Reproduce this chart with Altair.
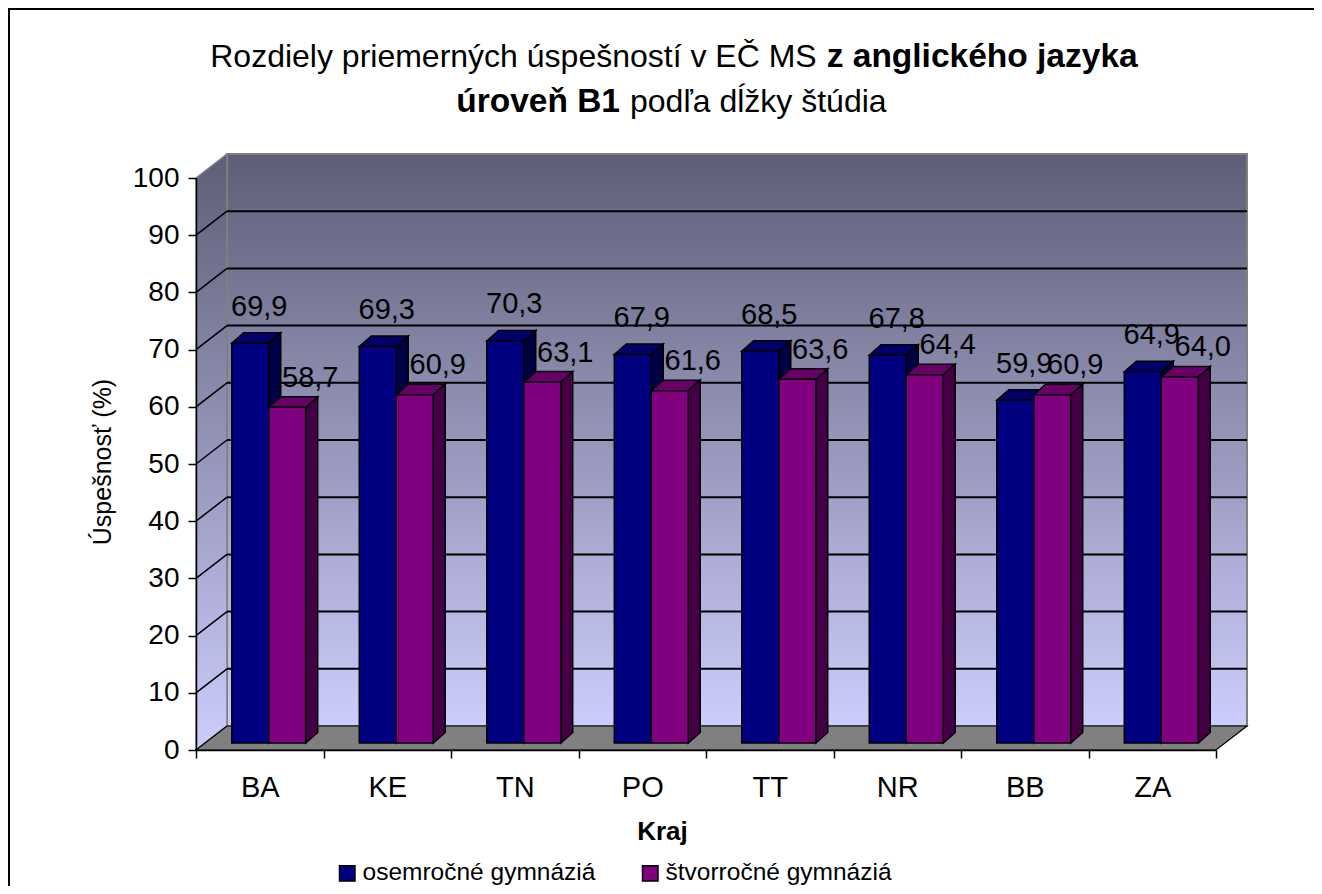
import json
import altair as alt
import pandas as pd

# ---------------- data ----------------
regions = ["BA", "KE", "TN", "PO", "TT", "NR", "BB", "ZA"]
series_names = ["osemročné gymnáziá", "štvorročné gymnáziá"]
osemrocne = [69.9, 69.3, 70.3, 67.9, 68.5, 67.8, 59.9, 64.9]
stvorrocne = [58.7, 60.9, 63.1, 61.6, 63.6, 64.4, 60.9, 64.0]
y_ticks = [0, 10, 20, 30, 40, 50, 60, 70, 80, 90, 100]
grid_values = [10, 20, 30, 40, 50, 60, 70, 80, 90]
title_line1 = ["Rozdiely priemerných úspešností v EČ MS", "z anglického jazyka"]
title_line2 = ["úroveň B1", "podľa dĺžky štúdia"]
x_title = "Kraj"
y_title = "Úspešnosť (%)"

# ---------------- style ----------------
FONT = "Liberation Sans"
front_colors = ["#000080", "#800080"]
top_colors = ["#000068", "#680068"]
side_colors = ["#000045", "#450045"]
W, H = 1020, 572
N = len(regions)
YMAX = 100
px_x = W / N
px_y = H / YMAX
WALL_DX, WALL_DY = 31 / px_x, 24 / px_y
LIFT_DX, LIFT_DY = 9 / px_x, 7 / px_y
BAR_DX, BAR_DY = 12 / px_x, 10.5 / px_y
BAR_START, BAR_W = 0.21, 0.29
label_dx_px = [-3, 11]
label_up_px = [17, 10]

wall_grad = {
    "gradient": "linear", "x1": 0, "y1": 0, "x2": 0, "y2": 1,
    "stops": [{"offset": 0, "color": "#5e5e77"}, {"offset": 1, "color": "#cdcdfd"}],
}

xs = alt.Scale(domain=[0, N], nice=False, zero=False)
ys = alt.Scale(domain=[0, YMAX], nice=False)

label_expr = f"datum.value < {N} ? {json.dumps(regions)}[datum.value] : ''"
XAXIS = alt.Axis(
    values=list(range(N + 1)), labelExpr=label_expr, labelOffset=px_x / 2,
    labelFlush=False, labelOverlap=False, labelFont=FONT, labelFontSize=29,
    labelColor="black", labelPadding=15, tickSize=8, tickColor="black", tickWidth=1.5,
    domainColor="black", domainWidth=1.5, grid=False, zindex=1,
    title=x_title, titleFont=FONT, titleFontSize=26, titleFontWeight="bold",
    titleColor="black", titleX=466, titleY=89, titleAlign="center",
    titleBaseline="alphabetic",
)
YAXIS = alt.Axis(
    values=y_ticks, labelFont=FONT, labelFontSize=28, labelColor="black",
    labelPadding=9, tickSize=8, tickColor="black", tickWidth=1.5,
    domainColor="black", domainWidth=1.5, grid=False, zindex=1,
    title=y_title, titleFont=FONT, titleFontSize=25, titleFontWeight="normal",
    titleColor="black", titleAngle=270, titleX=-94, titleY=283.5,
    titleAlign="center", titleBaseline="middle",
)


def X(field):
    return alt.X(field, scale=xs, axis=XAXIS)


def Y(field):
    return alt.Y(field, scale=ys, axis=YAXIS)


values = [osemrocne, stvorrocne]
front_rows, top_rows, side_rows, label_rows = [], [], [], []
for s, name in enumerate(series_names):
    for i, reg in enumerate(regions):
        v = values[s][i]
        x0 = i + BAR_START + s * BAR_W + LIFT_DX
        x1 = x0 + BAR_W
        yb = LIFT_DY
        yt = v + LIFT_DY
        bid = f"{reg}-{s}"
        front_rows.append(dict(region=reg, series=name, value=v, x0=x0, x1=x1, yb=yb, yt=yt))
        top_rows += [
            dict(bar=bid, fc=top_colors[s], y=yt, xa=x0, xb=x1),
            dict(bar=bid, fc=top_colors[s], y=yt + BAR_DY, xa=x0 + BAR_DX, xb=x1 + BAR_DX),
        ]
        side_rows += [
            dict(bar=bid, fc=side_colors[s], x=x1, ya=yt, yb=yb),
            dict(bar=bid, fc=side_colors[s], x=x1 + BAR_DX, ya=yt + BAR_DY, yb=yb + BAR_DY),
        ]
        label_rows.append(dict(
            series=name,
            label=f"{v:.1f}".replace(".", ","),
            x=(x0 + x1) / 2 + BAR_DX + label_dx_px[s] / px_x,
            y=yt + BAR_DY + label_up_px[s] / px_y,
        ))

front_df = pd.DataFrame(front_rows)
top_df = pd.DataFrame(top_rows)
side_df = pd.DataFrame(side_rows)
label_df = pd.DataFrame(label_rows)

# ---------------- walls ----------------
side_wall_df = pd.DataFrame([
    dict(x=0, ya=YMAX, yb=0),
    dict(x=WALL_DX, ya=YMAX + WALL_DY, yb=WALL_DY),
])
side_wall = alt.Chart(side_wall_df).mark_area(
    orient="vertical", fill=wall_grad, stroke="#808080", strokeWidth=1.5
).encode(x=X("x:Q"), y=Y("ya:Q"), y2="yb:Q")

floor_df = pd.DataFrame([
    dict(y=0, xa=0, xb=N),
    dict(y=WALL_DY, xa=WALL_DX, xb=N + WALL_DX),
])
floor = alt.Chart(floor_df).mark_area(
    orient="horizontal", fill="#808080", stroke="black", strokeWidth=1.2
).encode(y=Y("y:Q"), x=X("xa:Q"), x2="xb:Q")

back_df = pd.DataFrame([dict(x=WALL_DX, x2=N + WALL_DX, y=WALL_DY, y2=YMAX + WALL_DY)])
back_wall = alt.Chart(back_df).mark_rect(
    fill=wall_grad, stroke="#808080", strokeWidth=2
).encode(x=X("x:Q"), x2="x2:Q", y=Y("y:Q"), y2="y2:Q")

grid_df = pd.DataFrame({"g": grid_values})
back_grid = alt.Chart(grid_df).transform_calculate(
    yy=f"datum.g + {WALL_DY}", xa=f"{WALL_DX}", xb=f"{N + WALL_DX}"
).mark_rule(color="black", strokeWidth=2).encode(
    x=X("xa:Q"), x2="xb:Q", y=Y("yy:Q"),
)
side_grid = alt.Chart(grid_df).transform_calculate(
    y2v=f"datum.g + {WALL_DY}", xa="0", xb=f"{WALL_DX}"
).mark_rule(color="black", strokeWidth=1.5).encode(
    x=X("xa:Q"), x2="xb:Q", y=Y("g:Q"), y2="y2v:Q",
)

# ---------------- bars ----------------
sides = alt.Chart(side_df).mark_area(orient="vertical", stroke="black", strokeWidth=1.5).encode(
    x=X("x:Q"), y=Y("ya:Q"), y2="yb:Q",
    fill=alt.Fill("fc:N", scale=None),
    detail="bar:N",
)
tops = alt.Chart(top_df).mark_area(orient="horizontal", stroke="black", strokeWidth=1.5).encode(
    y=Y("y:Q"), x=X("xa:Q"), x2="xb:Q",
    fill=alt.Fill("fc:N", scale=None),
    detail="bar:N",
)
fronts = alt.Chart(front_df).mark_rect(stroke="black", strokeWidth=1.5).encode(
    x=X("x0:Q"), x2="x1:Q", y=Y("yb:Q"), y2="yt:Q",
    color=alt.Color("series:N", scale=alt.Scale(domain=series_names, range=front_colors),
                    legend=alt.Legend(
                        title=None, orient="none", legendX=139, legendY=683,
                        direction="horizontal", symbolType="square", symbolSize=240,
                        symbolStrokeColor="black", symbolStrokeWidth=1.5,
                        labelFont=FONT, labelFontSize=24.5, labelColor="black",
                        labelOffset=3, columnPadding=42, padding=0, labelLimit=500,
                    )),
    tooltip=["region:N", "series:N", "value:Q"],
)
labels = alt.Chart(label_df).mark_text(
    font=FONT, fontSize=29, color="black", baseline="alphabetic", align="center"
).encode(x=X("x:Q"), y=Y("y:Q"), text="label:N")

# ---------------- title & frame ----------------
one = pd.DataFrame({"k": [0]})
t1a = alt.Chart(one).mark_text(font=FONT, fontSize=32, align="right", baseline="alphabetic",
                               color="black").encode(
    x=alt.value(620.7), y=alt.value(-111.3), text=alt.value(title_line1[0]))
t1b = alt.Chart(one).mark_text(font=FONT, fontSize=33.5, fontWeight="bold", align="left",
                               baseline="alphabetic", color="black").encode(
    x=alt.value(630.7), y=alt.value(-111.3), text=alt.value(title_line1[1]))
t2a = alt.Chart(one).mark_text(font=FONT, fontSize=33.5, fontWeight="bold", align="right",
                               baseline="alphabetic", color="black").encode(
    x=alt.value(424), y=alt.value(-66.3), text=alt.value(title_line2[0]))
t2b = alt.Chart(one).mark_text(font=FONT, fontSize=32, align="left", baseline="alphabetic",
                               color="black").encode(
    x=alt.value(434), y=alt.value(-66.3), text=alt.value(title_line2[1]))
frame_top = alt.Chart(one).mark_rule(color="black", strokeWidth=2).encode(
    x=alt.value(-188), x2=alt.value(W + 98), y=alt.value(-169))
frame_left = alt.Chart(one).mark_rule(color="black", strokeWidth=2).encode(
    x=alt.value(-187), y=alt.value(-170), y2=alt.value(H + 136))

chart = alt.layer(
    back_wall, side_wall, floor, back_grid, side_grid,
    sides, tops, fronts, labels,
    t1a, t1b, t2a, t2b, frame_top, frame_left,
).properties(
    width=W, height=H,
    autosize=alt.AutoSizeParams(type="none"),
    padding={"left": 188, "top": 170, "right": 98, "bottom": 136},
    background="white",
).configure_view(strokeWidth=0)

chart.save("out.html", embed_options={"renderer": "svg", "actions": False})
